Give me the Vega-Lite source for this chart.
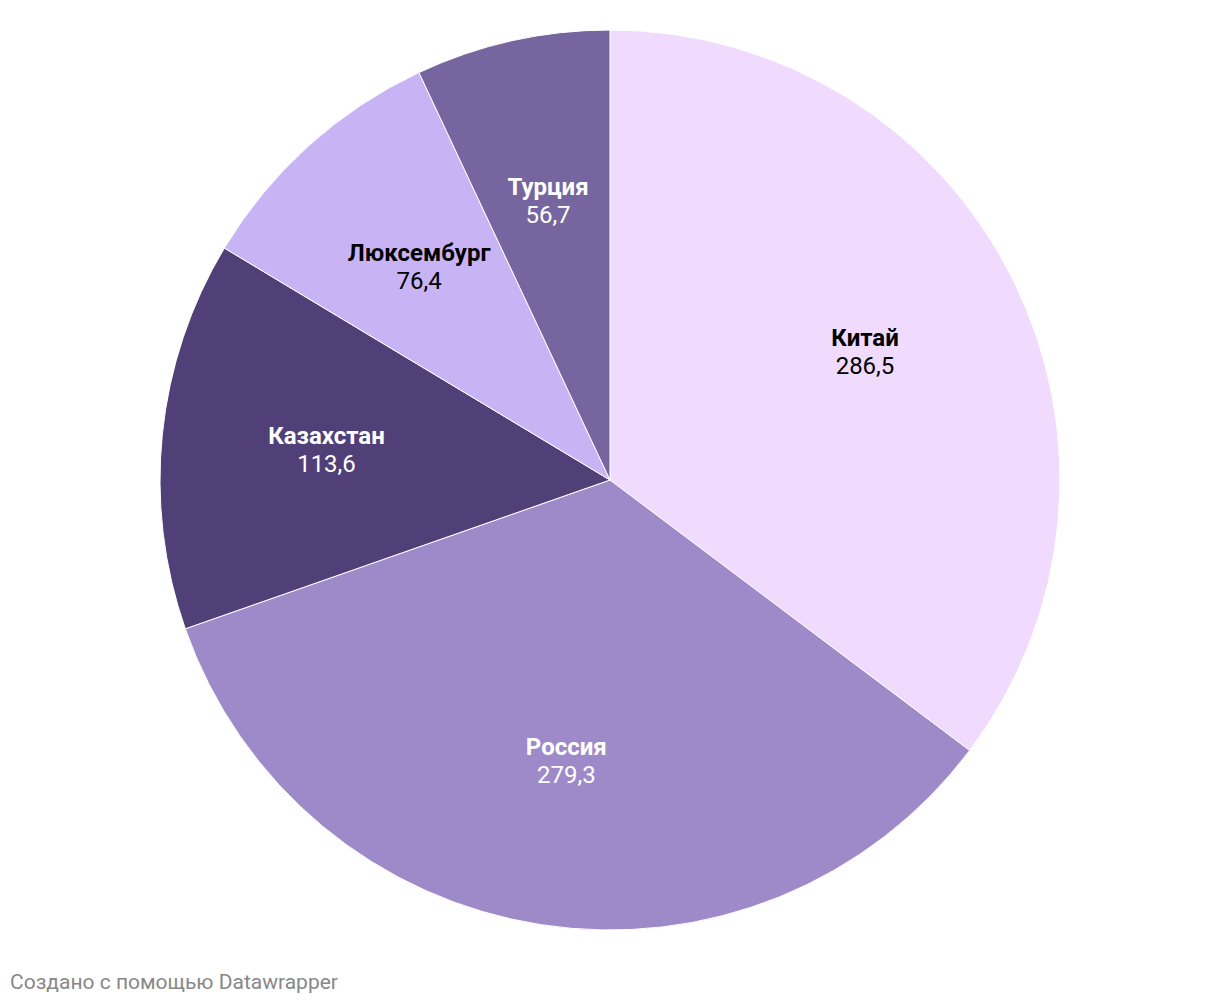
{
  "$schema": "https://vega.github.io/schema/vega-lite/v6.json",
  "width": 1220,
  "height": 960,
  "autosize": {"type": "none"},
  "padding": {"top": 0, "left": 0, "right": 0, "bottom": 46},
  "background": "#ffffff",
  "config": {
    "view": {"stroke": null},
    "locale": {"number": {"decimal": ",", "thousands": " ", "grouping": [3], "currency": ["", ""]}}
  },
  "title": {
    "text": "Создано с помощью Datawrapper",
    "orient": "bottom",
    "anchor": "start",
    "frame": "bounds",
    "dx": 10,
    "offset": 29,
    "baseline": "alphabetic",
    "font": "Roboto",
    "fontSize": 21,
    "fontWeight": "normal",
    "color": "#888888"
  },
  "data": {
    "values": [
      {"country": "Китай", "value": 286.5, "order": 1},
      {"country": "Россия", "value": 279.3, "order": 2},
      {"country": "Казахстан", "value": 113.6, "order": 3},
      {"country": "Люксембург", "value": 76.4, "order": 4},
      {"country": "Турция", "value": 56.7, "order": 5}
    ]
  },
  "encoding": {
    "theta": {"field": "value", "type": "quantitative", "stack": true},
    "order": {"field": "order", "type": "quantitative"}
  },
  "layer": [
    {
      "mark": {"type": "arc", "outerRadius": 450, "stroke": "#ffffff", "strokeWidth": 1},
      "encoding": {
        "color": {
          "field": "country",
          "type": "nominal",
          "scale": {
            "domain": ["Китай", "Россия", "Казахстан", "Люксембург", "Турция"],
            "range": ["#f0dbfe", "#9f8ac9", "#514078", "#c8b4f5", "#76659e"]
          },
          "legend": null
        }
      }
    },
    {
      "mark": {"type": "text", "radius": 285, "dy": -14, "font": "Roboto", "fontSize": 24, "fontWeight": "bold"},
      "encoding": {
        "text": {"field": "country", "type": "nominal"},
        "color": {
          "field": "country",
          "type": "nominal",
          "scale": {
            "domain": ["Китай", "Россия", "Казахстан", "Люксембург", "Турция"],
            "range": ["#000000", "#ffffff", "#ffffff", "#000000", "#ffffff"]
          },
          "legend": null
        }
      }
    },
    {
      "mark": {"type": "text", "radius": 285, "dy": 14, "font": "Roboto", "fontSize": 24, "fontWeight": "normal"},
      "encoding": {
        "text": {"field": "value", "type": "quantitative", "format": ".1f"},
        "color": {
          "field": "country",
          "type": "nominal",
          "scale": {
            "domain": ["Китай", "Россия", "Казахстан", "Люксембург", "Турция"],
            "range": ["#000000", "#ffffff", "#ffffff", "#000000", "#ffffff"]
          },
          "legend": null
        }
      }
    }
  ],
  "resolve": {"scale": {"color": "independent"}}
}
